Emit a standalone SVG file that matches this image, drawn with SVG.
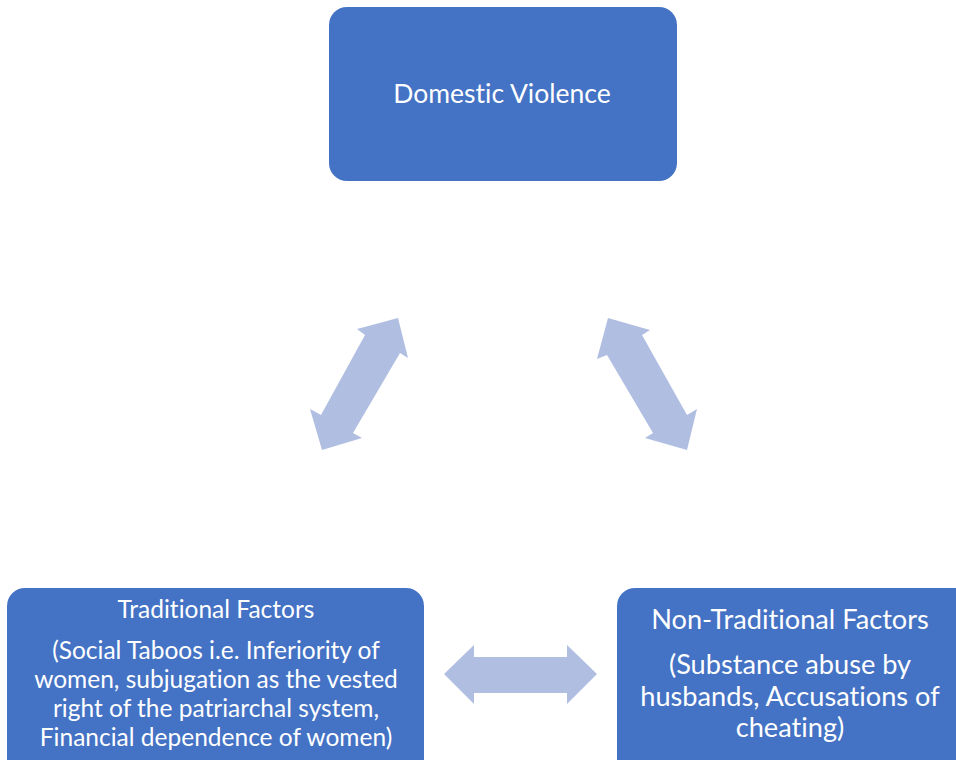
<svg xmlns="http://www.w3.org/2000/svg" width="956" height="760" viewBox="0 0 956 760">
<style>
.box{fill:#4472C4;}
.arrow{fill:#B0BEE1;}
text{font-family:Lato,"Open Sans","Liberation Sans",sans-serif;fill:#FFFFFF;text-anchor:middle;font-variant-ligatures:none;}
.t1{font-size:26.5px;}
.t2{font-size:24.5px;}
.t3{font-size:27.2px;}
</style>
<rect width="956" height="760" fill="#FFFFFF"/>
<g id="connectors">
<polygon class="arrow" points="398,318 408,358 400,353 353,433 362,438 322,450 310,409 321,415 365,335 357,329"/>
<polygon class="arrow" points="608,318 650,330 642,335 687,415 697,409 687,450 645,438 653,433 607,355 597,359"/>
<polygon class="arrow" points="444,674 474,645 474,657 567,657 567,645 597,674 567,704 567,693 474,693 474,704"/>
</g>
<g id="node-domestic-violence">
<rect class="box" x="329" y="7" width="348" height="174" rx="18"/>
<text class="t1" x="502" y="103">Domestic Violence</text>
</g>
<g id="node-traditional">
<rect class="box" x="7" y="588" width="417" height="190" rx="18"/>
<text class="t2" x="216" y="618">Traditional Factors</text>
<text class="t2" x="216" y="659">(Social Taboos i.e. Inferiority of</text>
<text class="t2" x="216" y="688">women, subjugation as the vested</text>
<text class="t2" x="216" y="717">right of the patriarchal system,</text>
<text class="t2" x="216" y="746">Financial dependence of women)</text>
</g>
<g id="node-non-traditional">
<rect class="box" x="617" y="588" width="360" height="190" rx="18"/>
<text class="t3" x="790" y="629">Non-Traditional Factors</text>
<text class="t3" x="790" y="674">(Substance abuse by</text>
<text class="t3" x="790" y="706">husbands, Accusations of</text>
<text class="t3" x="790" y="737">cheating)</text>
</g>
</svg>
